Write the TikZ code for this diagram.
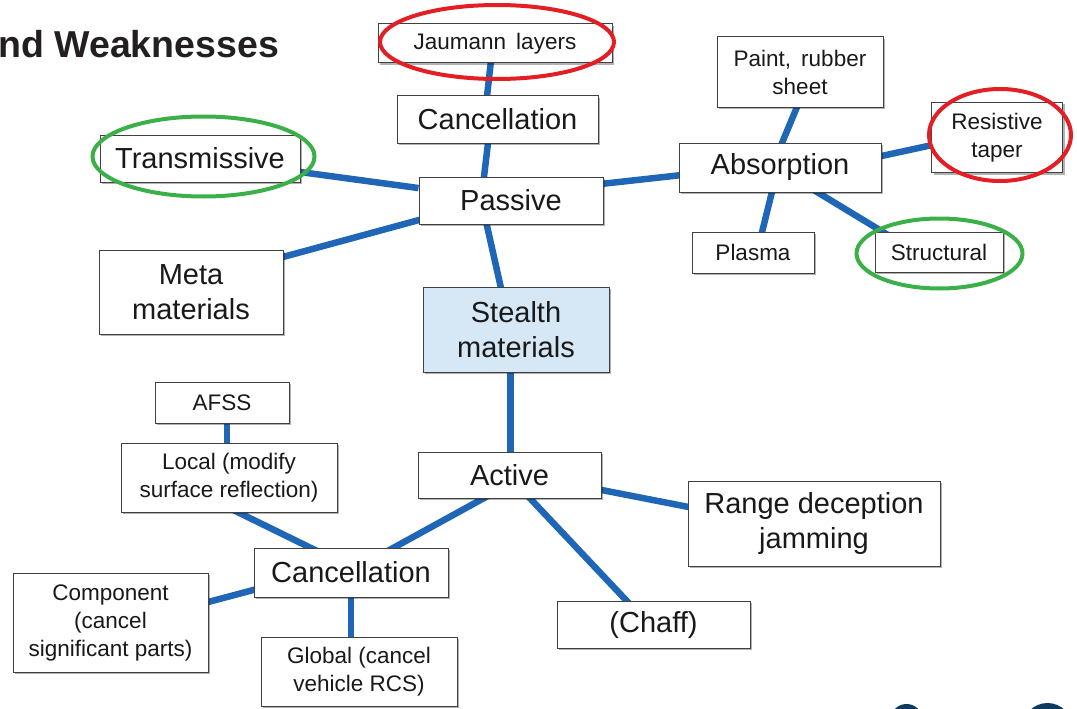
\documentclass[tikz,border=0pt]{standalone}
\usepackage{fontspec}
\setmainfont{Liberation Sans}
\usetikzlibrary{calc,shadows,backgrounds}
\definecolor{connblue}{RGB}{31,103,182}
\definecolor{ringred}{RGB}{227,30,36}
\definecolor{ringgreen}{RGB}{60,176,72}
\definecolor{stealthfill}{RGB}{214,232,246}
\definecolor{navy}{RGB}{14,58,95}
\definecolor{txt}{RGB}{25,25,25}
\tikzset{
  basebox/.style={draw=black!75, line width=1pt, fill=white, rectangle, inner sep=0pt,
    align=center, text=txt,
    drop shadow={shadow xshift=2pt, shadow yshift=-2pt, fill=black, opacity=0.3}},
  bigbox/.style={basebox, font=\fontsize{29}{35}\selectfont},
  smallbox/.style={basebox, font=\fontsize{22.5}{28}\selectfont},
  conn/.style={draw=connblue, line width=6.5pt},
  redring/.style={draw=ringred, line width=4pt},
  greenring/.style={draw=ringgreen, line width=4pt}
}
\begin{document}
\begin{tikzpicture}[x=1pt,y=-1pt]
\useasboundingbox (0,0) rectangle (1077,709);
% title
\node[anchor=base west, inner sep=0pt, text={rgb,255:red,35;green,31;blue,32},
  font=\fontsize{37.5}{42}\selectfont\bfseries] (title) at (-2,58) {nd Weaknesses};
% logo fragments
\fill[navy] (906.5,720) circle (16);
\fill[navy] (1047.5,728) circle (25);
% nodes
\node[smallbox, minimum width=234pt, minimum height=39pt] (jau) at (495,43.5) {Jaumann\, layers};
\node[bigbox, minimum width=201pt, minimum height=47pt] (canc1) at (497.5,119.5) {Cancellation};
\node[bigbox, minimum width=200pt, minimum height=47pt] (trans) at (200,158.5) {Transmissive};
\node[bigbox, minimum width=184pt, minimum height=47pt] (pass) at (511,200.5) {Passive};
\node[smallbox, minimum width=166pt, minimum height=70pt] (paint) at (800,72) {Paint,\, rubber\\sheet};
\node[bigbox, minimum width=202pt, minimum height=49pt] (absorp) at (780,167.5) {Absorption};
\node[smallbox, minimum width=131pt, minimum height=70pt] (resist) at (997,137.5) {Resistive\\taper};
\node[smallbox, minimum width=122pt, minimum height=41pt] (plasma) at (753,252.5) {Plasma};
\node[smallbox, minimum width=128pt, minimum height=40pt] (struct) at (939,252) {Structural};
\node[bigbox, minimum width=184pt, minimum height=84pt] (meta) at (191,292) {Meta\\materials};
\node[bigbox, fill=stealthfill, minimum width=186pt, minimum height=85pt] (stealth) at (516,329.5) {Stealth\\materials};
\node[smallbox, minimum width=134pt, minimum height=41pt] (afss) at (222,402.5) {AFSS};
\node[smallbox, minimum width=216pt, minimum height=69pt] (local) at (229,477.5) {Local (modify\\surface reflection)};
\node[bigbox, minimum width=183pt, minimum height=46pt] (active) at (509.5,475) {Active};
\node[bigbox, minimum width=252pt, minimum height=85pt] (range) at (814,523.5) {Range deception\\jamming};
\node[bigbox, minimum width=194pt, minimum height=49pt] (canc2) at (351,572.5) {Cancellation};
\node[smallbox, minimum width=195pt, minimum height=99pt] (comp) at (110.5,622.5) {Component\\(cancel\\significant parts)};
\node[smallbox, minimum width=196pt, minimum height=69pt] (global) at (359,671.5) {Global (cancel\\vehicle RCS)};
\node[bigbox, minimum width=193pt, minimum height=47pt] (chaff) at (653.5,624.5) {(Chaff)};
% connectors
\begin{scope}[on background layer]
\draw[conn] ($(jau)+(-2.1,0)$) -- ($(canc1)+(-13.1,0)$);
\draw[conn] ($(canc1)+(-6.7,0)$) -- ($(pass)+(-29.8,0)$);
\draw[conn] ($(pass)+(-29.7,0)$) -- ($(stealth)+(-5.7,0)$);
\draw[conn] (trans) -- (pass);
\draw[conn] ($(meta)+(0,-10)$) -- ($(pass)+(0,-5.5)$);
\draw[conn] ($(pass)+(0,-6.6)$) -- ($(absorp)+(0,-3.3)$);
\draw[conn] ($(absorp)+(-8.2,0)$) -- ($(paint)+(11.6,0)$);
\draw[conn] ($(absorp)+(0,10.5)$) -- ($(resist)+(0,-6.5)$);
\draw[conn] ($(absorp)+(-2,0)$) -- ($(plasma)+(4,0)$);
\draw[conn] ($(absorp)+(-3.4,0)$) -- ($(struct)+(-23,0)$);
\draw[conn] ($(stealth)+(-5.3,0)$) -- ($(active)+(1.2,0)$);
\draw[conn] ($(afss)+(5,0)$) -- ($(local)+(-2,0)$);
\draw[conn] ($(local)+(-62,0)$) -- ($(canc2)+(10,0)$);
\draw[conn] ($(active)+(16.5,0)$) -- ($(canc2)+(-2.5,0)$);
\draw[conn] ($(active)+(0,-3)$) -- ($(range)+(0,8)$);
\draw[conn] ($(active)+(-1.5,0)$) -- ($(chaff)+(-4.5,0)$);
\draw[conn] ($(canc2)+(0,-8.5)$) -- ($(comp)+(0,5.5)$);
\draw[conn] (canc2) -- ($(global)+(-8,0)$);
\end{scope}
% highlight rings
\draw[redring] (497,42) ellipse [x radius=117, y radius=37];
\draw[redring] (1000,135) ellipse [x radius=71, y radius=46];
\draw[greenring] (203.5,156.5) ellipse [x radius=111, y radius=40];
\draw[greenring] (939.5,253.5) ellipse [x radius=83, y radius=35];
\end{tikzpicture}
\end{document}
